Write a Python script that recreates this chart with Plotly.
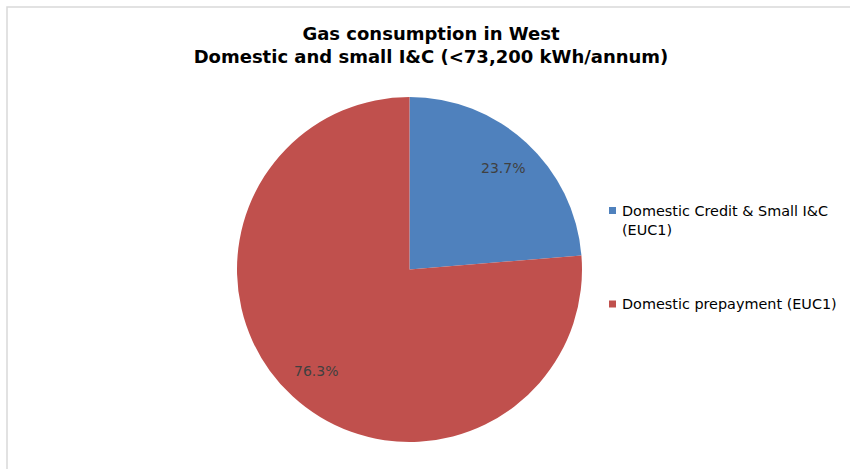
import math
import plotly.graph_objects as go

categories = ["Domestic Credit & Small I&C (EUC1)", "Domestic prepayment (EUC1)"]
legend_labels = ["Domestic Credit & Small I&C<br>(EUC1)", "Domestic prepayment (EUC1)"]
shares = [23.7, 76.3]
colors = ["#4F81BD", "#C0504D"]

W, H = 850, 469
FONT = "DejaVu Sans, Liberation Sans, Arial, sans-serif"

# pie geometry (pixels)
CX, CY, R = 409.5, 269.5, 172.5

fig = go.Figure()
fig.add_trace(go.Pie(
    labels=categories,
    values=shares,
    marker=dict(colors=colors, line=dict(width=0)),
    sort=False,
    direction="clockwise",
    rotation=0,
    textinfo="none",
    hoverinfo="label+percent",
    showlegend=False,
    domain=dict(x=[(CX - R) / W, (CX + R) / W],
                y=[1 - (CY + R) / H, 1 - (CY - R) / H]),
))

# percentage labels at the middle angle of each slice (Excel-style, ~0.8 r)
total = sum(shares)
cum = 0.0
for v in shares:
    mid = (cum + v / 2) / total * 2 * math.pi
    cum += v
    px = CX + 0.8 * R * math.sin(mid)
    py = CY - 0.8 * R * math.cos(mid)
    fig.add_annotation(x=px / W, y=1 - py / H, xref="paper", yref="paper",
                       xanchor="center", yanchor="middle", showarrow=False,
                       text=f"{v / total * 100:.1f}%",
                       font=dict(family=FONT, size=14, color="#404040"))

# legend drawn manually (Excel-style spacing)
legend_sq_y = [210.5, 304]
legend_txt_y = [220.5, 304]
for lab, col, sy, ty in zip(legend_labels, colors, legend_sq_y, legend_txt_y):
    fig.add_shape(type="rect", xref="paper", yref="paper",
                  x0=609 / W, x1=616 / W, y0=1 - (sy + 3.5) / H, y1=1 - (sy - 3.5) / H,
                  fillcolor=col, line=dict(width=0))
    fig.add_annotation(x=620 / W, y=1 - ty / H, xref="paper", yref="paper",
                       xanchor="left", yanchor="middle", align="left", showarrow=False,
                       text=lab, font=dict(family=FONT, size=14.4, color="#000000"))

# chart border
fig.add_shape(type="rect", xref="paper", yref="paper",
              x0=7 / W, x1=1.02, y0=-0.02, y1=1 - 7 / H,
              line=dict(color="#d9d9d9", width=1.5), fillcolor="rgba(0,0,0,0)")

fig.update_layout(
    width=W, height=H,
    margin=dict(l=0, r=0, t=0, b=0),
    paper_bgcolor="white", plot_bgcolor="white",
    title=dict(text="<b>Gas consumption in West<br>Domestic and small I&C (<73,200 kWh/annum)</b>",
               x=431 / W, xanchor="center", y=1 - 40 / H, yanchor="top",
               font=dict(family=FONT, size=18, color="#000000")),
)

fig.write_html("out.html", config={"displayModeBar": False},
               post_script="document.body.style.margin='0';")
